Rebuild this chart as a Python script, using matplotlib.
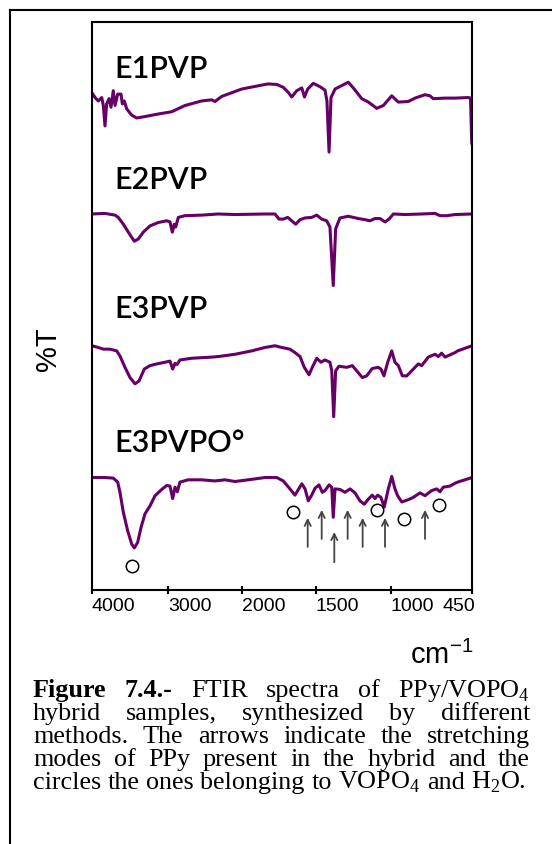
import numpy as np
import matplotlib.pyplot as plt
from matplotlib.lines import Line2D
from matplotlib.transforms import ScaledTranslation

plt.rcParams['mathtext.fontset'] = 'custom'
plt.rcParams['mathtext.rm'] = 'Liberation Serif'
plt.rcParams['mathtext.sf'] = 'Liberation Sans'

# ---- spectra (wavenumber, stacked %T) ----
wn_e1 = [4000, 3960, 3917, 3872, 3851, 3829, 3807, 3776, 3750, 3720, 3697, 3662, 3618, 3601,
         3575, 3543, 3478, 3412, 3325, 3128, 2950, 2770, 2545, 2410, 2365, 2274, 2004, 1845,
         1822, 1765, 1721, 1687, 1664, 1630, 1596, 1578, 1556, 1518, 1473, 1440, 1427, 1413,
         1400, 1373, 1285, 1245, 1195, 1151, 1095, 1051, 995, 950, 883, 837, 769, 735, 713,
         633, 565, 477, 460, 452]
t_e1 = [87.5, 86.7, 86.1, 86.7, 85.3, 81.7, 85.6, 86.5, 85.0, 87.9, 85.3, 87.3, 87.3, 85.6,
        86.1, 84.7, 83.6, 83.1, 83.3, 83.8, 84.2, 85.3, 86.1, 86.3, 86.0, 86.9, 88.2, 89.0,
        89.1, 89.0, 88.5, 87.6, 86.8, 87.9, 88.4, 86.8, 88.2, 89.2, 88.6, 88.0, 86.1, 77.1,
        86.7, 88.2, 89.4, 88.2, 86.5, 85.9, 84.8, 85.3, 87.0, 85.9, 86.0, 86.6, 87.2, 87.0, 86.5,
        86.6, 86.6, 86.7, 86.6, 78.7]

wn_e2 = [4000, 3829, 3697, 3654, 3588, 3522, 3443, 3391, 3325, 3237, 3128, 3017, 2973, 2942,
         2915, 2896, 2861, 2770, 2545, 2320, 2095, 1845, 1777, 1750, 1721, 1691, 1664, 1637,
         1608, 1574, 1529, 1495, 1462, 1429, 1407, 1385, 1369, 1340, 1285, 1218, 1173, 1140,
         1107, 1073, 1040, 1013, 984, 905, 792, 701, 667, 622, 565, 450]
t_e2 = [66.2, 66.3, 66.0, 65.6, 64.4, 63.0, 61.4, 61.8, 63.0, 64.1, 64.7, 65.0, 64.8, 63.0,
        64.4, 63.9, 65.6, 65.9, 66.0, 66.2, 66.1, 66.2, 66.2, 65.3, 65.3, 65.6, 65.0, 64.4,
        65.2, 65.5, 65.6, 66.0, 65.3, 65.0, 63.9, 53.6, 63.6, 65.5, 65.8, 65.4, 65.2, 65.0,
        65.4, 65.4, 64.8, 65.3, 66.2, 66.1, 66.2, 66.3, 65.9, 65.9, 66.1, 66.2]

wn_e3 = [4000, 3917, 3851, 3763, 3675, 3632, 3566, 3500, 3434, 3381, 3312, 3237, 3149, 3039,
         2973, 2937, 2905, 2878, 2838, 2680, 2410, 2320, 2095, 1934, 1845, 1777, 1732, 1676,
         1642, 1608, 1579, 1547, 1525, 1495, 1467, 1440, 1407, 1395, 1382, 1369, 1347, 1295,
         1258, 1229, 1191, 1162, 1125, 1085, 1067, 1047, 1022, 995, 973, 950, 923, 893, 859,
         815, 792, 747, 701, 679, 656, 633, 599, 565, 547, 450]
t_e3 = [43.0, 42.7, 42.4, 42.4, 42.1, 41.2, 39.2, 37.4, 36.3, 36.8, 38.9, 39.5, 39.8, 40.1,
        40.3, 38.9, 39.9, 39.7, 40.5, 40.8, 41.0, 41.1, 41.5, 42.1, 42.7, 43.0, 42.7, 42.4,
        41.8, 41.1, 39.2, 37.9, 39.2, 40.8, 40.1, 40.5, 40.1, 38.6, 30.5, 38.6, 39.4, 39.2,
        39.5, 38.6, 37.4, 37.7, 39.0, 39.2, 38.9, 37.7, 40.1, 42.1, 40.1, 39.5, 37.7, 37.7, 38.6,
        39.8, 39.5, 41.0, 41.5, 41.1, 41.7, 41.0, 41.4, 41.8, 42.1, 43.0]

wn_e4 = [4000, 3829, 3720, 3662, 3632, 3588, 3530, 3478, 3443, 3399, 3355, 3303, 3237, 3171,
         3083, 3017, 2973, 2937, 2905, 2874, 2838, 2726, 2545, 2365, 2230, 2095, 1957, 1845,
         1765, 1721, 1676, 1642, 1619, 1596, 1574, 1552, 1529, 1507, 1480, 1458, 1440, 1413,
         1395, 1385, 1373, 1340, 1307, 1273, 1240, 1207, 1178, 1151, 1125, 1107, 1089, 1067,
         1045, 1018, 995, 973, 955, 927, 883, 849, 803, 769, 724, 690, 667, 645, 599, 565, 547, 450]
t_e4 = [19.8, 19.8, 19.7, 19.0, 17.2, 13.7, 10.4, 8.1, 7.4, 8.4, 11.0, 13.4, 14.8, 16.6,
        17.7, 18.4, 18.3, 16.1, 18.1, 17.3, 19.0, 19.4, 19.4, 19.2, 19.4, 19.1, 19.4, 19.8,
        19.8, 19.2, 17.8, 16.7, 17.7, 18.7, 17.8, 15.7, 16.7, 17.9, 18.5, 17.2, 17.5, 18.5,
        18.1, 12.8, 17.8, 17.7, 17.2, 17.8, 17.1, 15.7, 15.1, 16.0, 16.7, 16.1, 16.7, 16.3,
        14.6, 17.8, 20.0, 17.8, 16.6, 15.5, 15.9, 16.3, 17.1, 16.6, 17.5, 17.8, 17.3, 18.1,
        18.3, 18.8, 19.0, 19.8]

labels = ['E1PVP', 'E2PVP', 'E3PVP', 'E3PVPO°']

# PPy bands (arrows) and VOPO4 / H2O bands (circles) on E3PVPO°
arrow_wn = [1556, 1462, 1378, 1289, 1189, 1040, 769]
arrow_tip = [13.2, 14.6, 10.7, 14.6, 13.2, 13.2, 14.6]
arrow_tail = [7.1, 8.5, 4.4, 8.5, 7.1, 7.1, 8.5]
circle_wn = [3478, 1653, 1091, 910, 672]
circle_t = [4.3, 13.7, 14.0, 12.5, 15.0]

tick_wn = [4000, 3000, 2000, 1500, 1000, 450]
tick_lab = ['4000', '3000', '2000', '1500', '1000', '450']
tick_pos = [0, 76, 150, 224, 299, 380]   # broken axis: spacing of each segment


def fwd(w):
    return np.interp(w, tick_wn[::-1], [-p for p in tick_pos[::-1]])


def inv(t):
    return np.interp(t, [-p for p in tick_pos[::-1]], tick_wn[::-1])


W, H = 552, 845
fig = plt.figure(figsize=(W/100, H/100), dpi=100)
ax = fig.add_axes([92/W, 1-591/H, 380/W, 568/H])
ax.set_xscale('function', functions=(fwd, inv))
ax.set_xlim(4000, 450)
ax.set_ylim(0, 100)

col = '#660066'
for wn, t in [(wn_e1, t_e1), (wn_e2, t_e2), (wn_e3, t_e3), (wn_e4, t_e4)]:
    ax.plot(wn, t, color=col, lw=2.2, solid_joinstyle='round')

for x, a, b in zip(arrow_wn, arrow_tip, arrow_tail):
    ax.annotate('', xy=(x, a), xytext=(x, b),
                arrowprops=dict(arrowstyle='->', color='#444444', lw=1.3, mutation_scale=11))
ax.scatter(circle_wn, circle_t, s=80, facecolors='white', edgecolors='black', lw=1.1, zorder=3)

for s in ax.spines.values():
    s.set_linewidth(1.5)
ax.set_yticks([])
ax.set_xticks(tick_wn)
ax.set_xticklabels(tick_lab, fontsize=14, family='Liberation Sans')
ax.tick_params(axis='x', direction='inout', length=6, width=1.5, pad=2)
lbls = ax.get_xticklabels()
for l in lbls[:-1]:
    l.set_ha('left')
lbls[-1].set_ha('right')
lbls[-1].set_transform(lbls[-1].get_transform() + ScaledTranslation(3/100, 0, fig.dpi_scale_trans))

# sample names
lab_y = [0.903, 0.708, 0.481, 0.245]
for name, yy in zip(labels, lab_y):
    ax.text(0.058, yy, name, transform=ax.transAxes, fontsize=22, family='Lato',
            weight='semibold', va='baseline', ha='left')

fig.text(48/W, 1-349/H, '%T', rotation=90, fontsize=21, family='Liberation Sans',
         ha='center', va='center')
fig.text(442/W, 1-664/H, r'cm$^{\mathsf{-1}}$', fontsize=21, family='Liberation Sans',
         ha='center', va='baseline')

# outer frame (cut at the right and bottom)
fig.add_artist(Line2D([10/W, 1], [1-11/H, 1-11/H], color='black', lw=1.5, transform=fig.transFigure))
fig.add_artist(Line2D([10/W, 10/W], [0, 1-11/H], color='black', lw=1.5, transform=fig.transFigure))

# justified caption
cap = [
    [('Figure', True), ('7.4.-', True), ('FTIR', False), ('spectra', False), ('of', False),
     ('PPy/VOPO$_4$', False)],
    [('hybrid', False), ('samples,', False), ('synthesized', False), ('by', False),
     ('different', False)],
    [('methods.', False), ('The', False), ('arrows', False), ('indicate', False), ('the', False),
     ('stretching', False)],
    [('modes', False), ('of', False), ('PPy', False), ('present', False), ('in', False),
     ('the', False), ('hybrid', False), ('and', False), ('the', False)],
    [('circles', False), ('the', False), ('ones', False), ('belonging', False), ('to', False),
     ('VOPO$_4$', False), ('and', False), ('H$_2$O.', False)],
]
cap_base = [697, 720, 743, 766, 789]
cap_fs = 18.8
cx0, cx1 = 33, 530
r = fig.canvas.get_renderer()
for i, (words, yb) in enumerate(zip(cap, cap_base)):
    arts = [fig.text(0, 1-yb/H, w, fontsize=cap_fs, family='Liberation Serif',
                     weight='bold' if b else 'normal', va='baseline', ha='left')
            for w, b in words]
    widths = [a.get_window_extent(r).width for a in arts]
    if i == len(cap) - 1:
        gap = 0.25 * cap_fs * 100 / 72
    else:
        gap = (cx1 - cx0 - sum(widths)) / (len(words) - 1)
    x = cx0
    for a, wd in zip(arts, widths):
        a.set_x(x / W)
        x += wd + gap

fig.savefig('out.png', dpi=100)
